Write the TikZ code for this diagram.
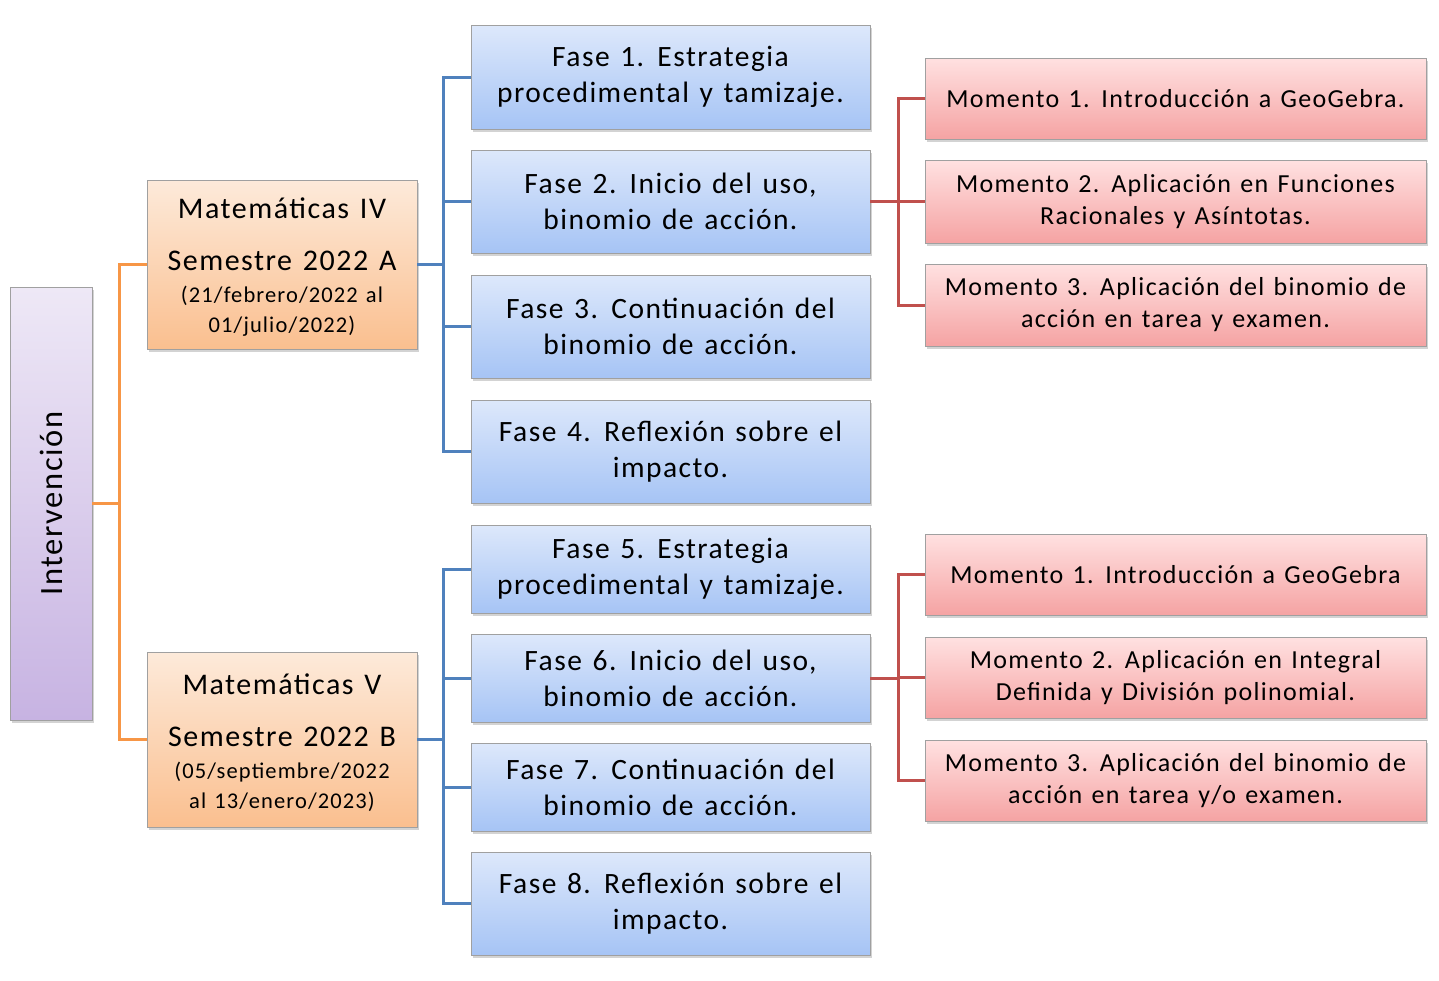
\documentclass[tikz,border=0pt]{standalone}
\usepackage{fontspec}
\setmainfont[LetterSpace=5, WordSpace=1.3]{Carlito}
\usetikzlibrary{shadows}
\definecolor{lineblue}{HTML}{4F81BD}
\definecolor{lineorange}{HTML}{F79646}
\definecolor{linered}{HTML}{C0504D}
\definecolor{boxborder}{HTML}{A0A0A0}
\definecolor{lavtop}{HTML}{EEE8F6}
\definecolor{lavbot}{HTML}{C7B3E2}
\definecolor{ortop}{HTML}{FDEADA}
\definecolor{orbot}{HTML}{FABF8F}
\definecolor{bltop}{HTML}{DDE8FB}
\definecolor{blbot}{HTML}{A6C4F5}
\definecolor{rdtop}{HTML}{FFE1E1}
\definecolor{rdbot}{HTML}{F5A3A3}
\tikzset{
  basebox/.style={draw=boxborder, line width=0.8pt, inner sep=0pt, align=center,
    drop shadow={opacity=0.35, shadow xshift=2pt, shadow yshift=-2.5pt}},
  lavbox/.style={basebox, top color=lavtop, bottom color=lavbot},
  orbox/.style={basebox, top color=ortop, bottom color=orbot, minimum width=270pt},
  fasebox/.style={basebox, top color=bltop, bottom color=blbot, minimum width=399pt,
    font=\fontsize{29.5}{36}\selectfont},
  momentobox/.style={basebox, top color=rdtop, bottom color=rdbot, minimum width=501pt,
    font=\fontsize{26}{32}\selectfont},
  conn/.style={line width=3pt},
}
\begin{document}
\begin{tikzpicture}[x=1pt,y=-1pt]
\useasboundingbox (0,0) rectangle (1439,980);
% root
\node[lavbox, minimum width=82pt, minimum height=433pt] (interv) at (51,503.5) {};
\node[rotate=90, font=\fontsize{32.5}{38}\selectfont] (intervtxt) at (51,503.5) {Intervención};
% semesters
\node[orbox, minimum height=169pt] (mativ) at (282,264.5) {};
\node[font=\fontsize{30}{34}\selectfont] (mativa) at (282,208) {Matemáticas IV};
\node[font=\fontsize{30}{34}\selectfont] (matdb) at (282,261) {Semestre 2022 A};
\node[font=\fontsize{22.5}{30}\selectfont, align=center] (matdc) at (282,311) {(21/febrero/2022 al\\01/julio/2022)};
\node[orbox, minimum height=175pt] (matv) at (282,739.5) {};
\node[font=\fontsize{30}{34}\selectfont] (matva) at (282,684) {Matemáticas V};
\node[font=\fontsize{30}{34}\selectfont] (matvb) at (282,737) {Semestre 2022 B};
\node[font=\fontsize{22.5}{30}\selectfont, align=center] (matvc) at (282,787) {(05/septiembre/2022\\al 13/enero/2023)};
% phases
\node[fasebox, minimum height=104pt] (f1) at (670.5,77) {Fase 1. Estrategia\\procedimental y tamizaje.};
\node[fasebox, minimum height=103pt] (f2) at (670.5,201.5) {Fase 2. Inicio del uso,\\binomio de acción.};
\node[fasebox, minimum height=103pt] (f3) at (670.5,326.5) {Fase 3. Continuación del\\binomio de acción.};
\node[fasebox, minimum height=103pt] (f4) at (670.5,451.5) {Fase 4. Reflexión sobre el\\impacto.};
\node[fasebox, minimum height=88pt] (f5) at (670.5,569) {Fase 5. Estrategia\\procedimental y tamizaje.};
\node[fasebox, minimum height=88pt] (f6) at (670.5,678) {Fase 6. Inicio del uso,\\binomio de acción.};
\node[fasebox, minimum height=88pt] (f7) at (670.5,787) {Fase 7. Continuación del\\binomio de acción.};
\node[fasebox, minimum height=103pt] (f8) at (670.5,903.5) {Fase 8. Reflexión sobre el\\impacto.};
% moments
\node[momentobox, minimum height=81pt] (m1) at (1175.5,98.5) {Momento 1. Introducción a GeoGebra.};
\node[momentobox, minimum height=83pt] (m2) at (1175.5,201.5) {Momento 2. Aplicación en Funciones\\Racionales y Asíntotas.};
\node[momentobox, minimum height=82pt] (m3) at (1175.5,305) {Momento 3. Aplicación del binomio de\\acción en tarea y examen.};
\node[momentobox, minimum height=81pt] (m4) at (1175.5,574.5) {Momento 1. Introducción a GeoGebra};
\node[momentobox, minimum height=81pt] (m5) at (1175.5,677.5) {Momento 2. Aplicación en Integral\\Definida y División polinomial.};
\node[momentobox, minimum height=81pt] (m6) at (1175.5,780.5) {Momento 3. Aplicación del binomio de\\acción en tarea y/o examen.};
% connectors
\draw[conn, lineorange] (interv.east) -- (119,503.5) |- (mativ.west);
\draw[conn, lineorange] (119,503.5) |- (matv.west);
\foreach \f in {f1,f2,f3,f4}{
  \draw[conn, lineblue] (mativ.east) -- (443,264.5) |- (\f.west);
}
\foreach \f in {f5,f6,f7,f8}{
  \draw[conn, lineblue] (matv.east) -- (443,739.5) |- (\f.west);
}
\foreach \m in {m1,m2,m3}{
  \draw[conn, linered] (f2.east) -- (898,201.5) |- (\m.west);
}
\foreach \m in {m4,m5,m6}{
  \draw[conn, linered] (f6.east) -- (898,678) |- (\m.west);
}
\end{tikzpicture}
\end{document}
